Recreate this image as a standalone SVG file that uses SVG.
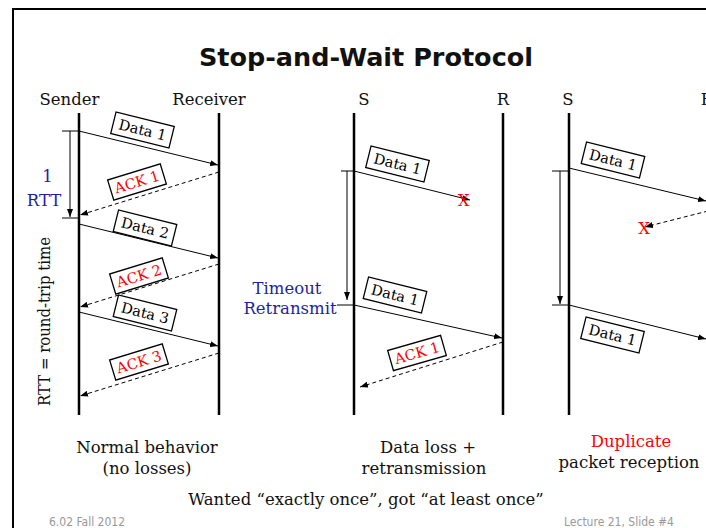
<svg xmlns="http://www.w3.org/2000/svg" width="706" height="528" viewBox="0 0 706 528">
<style>
.lbl{font-family:"DejaVu Serif","Liberation Serif",serif;font-size:16.5px;fill:#111;text-anchor:middle}
.blue{fill:#1e1ea6}
.red{fill:#ff0000}
.life{stroke:#000;stroke-width:2.5;fill:none}
.msg{stroke:#000;stroke-width:1;fill:none}
.dash{stroke-dasharray:4 3}
.brk{stroke:#000;stroke-width:1;fill:none}
.box rect{fill:#fff;stroke:#000;stroke-width:1.3}
.box text{font-family:"DejaVu Serif","Liberation Serif",serif;font-size:14.5px;text-anchor:middle}
.foot{font-family:"DejaVu Sans Condensed","DejaVu Sans","Liberation Sans",sans-serif;font-size:12px;fill:#999}
</style>
<defs>
<marker id="ah" viewBox="0 0 8 6" refX="8" refY="3" markerWidth="8" markerHeight="6" orient="auto" markerUnits="userSpaceOnUse">
<path d="M0,0 L8,3 L0,6 z" fill="#000"/>
</marker>
</defs>
<rect width="706" height="528" fill="#fff"/>
<path d="M13,528 V9 H706" fill="none" stroke="#000" stroke-width="2"/>
<text x="366" y="66" text-anchor="middle" font-family="DejaVu Sans, Liberation Sans, sans-serif" font-weight="bold" font-size="25.5" fill="#111">Stop-and-Wait Protocol</text>

<g id="lifelines">
<g id="p1-sender"><line class="life" x1="79" y1="113" x2="79" y2="415"/><text class="lbl" x="69.5" y="105">Sender</text></g>
<g id="p1-receiver"><line class="life" x1="219" y1="113" x2="219" y2="415"/><text class="lbl" x="209" y="105">Receiver</text></g>
<g id="p2-s"><line class="life" x1="354" y1="113" x2="354" y2="415"/><text class="lbl" x="364" y="105">S</text></g>
<g id="p2-r"><line class="life" x1="503" y1="113" x2="503" y2="415"/><text class="lbl" x="503" y="105">R</text></g>
<g id="p3-s"><line class="life" x1="569" y1="113" x2="569" y2="415"/><text class="lbl" x="568" y="105">S</text></g>
<g id="p3-r"><line class="life" x1="708" y1="113" x2="708" y2="415"/><text class="lbl" x="707" y="105">R</text></g>
</g>

<g id="connectors">
<line class="msg" x1="79" y1="131" x2="218" y2="165" marker-end="url(#ah)"/>
<line class="msg dash" x1="219" y1="172" x2="80" y2="215" marker-end="url(#ah)"/>
<line class="msg" x1="79" y1="224" x2="218" y2="258" marker-end="url(#ah)"/>
<line class="msg dash" x1="219" y1="264" x2="80" y2="307" marker-end="url(#ah)"/>
<line class="msg" x1="79" y1="312" x2="218" y2="346" marker-end="url(#ah)"/>
<line class="msg dash" x1="219" y1="353" x2="80" y2="396" marker-end="url(#ah)"/>
<path class="brk" d="M62,131 H79 M62,218 H79"/>
<line class="brk" x1="70" y1="131" x2="70" y2="217" marker-end="url(#ah)"/>

<line class="msg" x1="354" y1="171" x2="470" y2="200" marker-end="url(#ah)"/>
<line class="msg" x1="354" y1="305" x2="502" y2="338" marker-end="url(#ah)"/>
<line class="msg dash" x1="503" y1="342" x2="360" y2="387" marker-end="url(#ah)"/>
<path class="brk" d="M341,171 H354 M337,305 H354"/>
<line class="brk" x1="347" y1="171" x2="347" y2="300" marker-end="url(#ah)"/>

<line class="msg" x1="569" y1="168" x2="706" y2="201" marker-end="url(#ah)"/>
<line class="msg dash" x1="708" y1="211" x2="645" y2="227" marker-end="url(#ah)"/>
<line class="msg" x1="569" y1="305" x2="706" y2="339" marker-end="url(#ah)"/>
<path class="brk" d="M552,171 H569 M552,305 H569"/>
<line class="brk" x1="560" y1="171" x2="560" y2="304" marker-end="url(#ah)"/>
</g>

<g id="msg-labels">
<g id="p1-data1" class="box" transform="translate(142.5,130) rotate(14)"><rect x="-30" y="-11" width="60" height="22"/><text x="0" y="5">Data 1</text></g>
<g id="p1-ack1" class="box" transform="translate(137,182) rotate(-17)"><rect x="-27.5" y="-10.5" width="55" height="21"/><text class="red" x="0" y="5">ACK 1</text></g>
<g id="p1-data2" class="box" transform="translate(145,228) rotate(14)"><rect x="-30" y="-11" width="60" height="22"/><text x="0" y="5">Data 2</text></g>
<g id="p1-ack2" class="box" transform="translate(139,276) rotate(-17)"><rect x="-27.5" y="-10.5" width="55" height="21"/><text class="red" x="0" y="5">ACK 2</text></g>
<g id="p1-data3" class="box" transform="translate(145,313) rotate(14)"><rect x="-30" y="-11" width="60" height="22"/><text x="0" y="5">Data 3</text></g>
<g id="p1-ack3" class="box" transform="translate(139,362) rotate(-17)"><rect x="-27.5" y="-10.5" width="55" height="21"/><text class="red" x="0" y="5">ACK 3</text></g>

<g id="p2-data1" class="box" transform="translate(397.5,164) rotate(14)"><rect x="-30" y="-11" width="60" height="22"/><text x="0" y="5">Data 1</text></g>
<g id="p2-data1b" class="box" transform="translate(395,295) rotate(14)"><rect x="-30" y="-11" width="60" height="22"/><text x="0" y="5">Data 1</text></g>
<g id="p2-ack1" class="box" transform="translate(417,353) rotate(-16)"><rect x="-27.5" y="-10.5" width="55" height="21"/><text class="red" x="0" y="5">ACK 1</text></g>

<g id="p3-data1" class="box" transform="translate(613,160) rotate(14)"><rect x="-30" y="-11" width="60" height="22"/><text x="0" y="5">Data 1</text></g>
<g id="p3-data1b" class="box" transform="translate(612.5,335) rotate(14)"><rect x="-30" y="-11" width="60" height="22"/><text x="0" y="5">Data 1</text></g>

<text class="lbl red" x="463.5" y="206" font-size="19">X</text>
<text class="lbl red" x="644" y="234" font-size="19">X</text>
</g>

<g id="annotations">
<text class="lbl blue" x="47.5" y="182">1</text>
<text class="lbl blue" x="44" y="206">RTT</text>
<text class="lbl" transform="translate(50,321.5) rotate(-90)" font-size="15" textLength="169" lengthAdjust="spacingAndGlyphs">RTT = round-trip time</text>
<text class="lbl blue" x="287" y="294">Timeout</text>
<text class="lbl blue" x="290" y="314">Retransmit</text>
<text class="lbl" x="147" y="453">Normal behavior</text>
<text class="lbl" x="147" y="474">(no losses)</text>
<text class="lbl" x="428" y="453">Data loss +</text>
<text class="lbl" x="424" y="474">retransmission</text>
<text class="lbl red" x="631" y="447">Duplicate</text>
<text class="lbl" x="629" y="468">packet reception</text>
<text class="lbl" x="366" y="505" font-size="18.3">Wanted “exactly once”, got “at least once”</text>
<text class="foot" x="49" y="526">6.02 Fall 2012</text>
<text class="foot" x="674" y="526" text-anchor="end">Lecture 21, Slide #4</text>
</g>
</svg>
